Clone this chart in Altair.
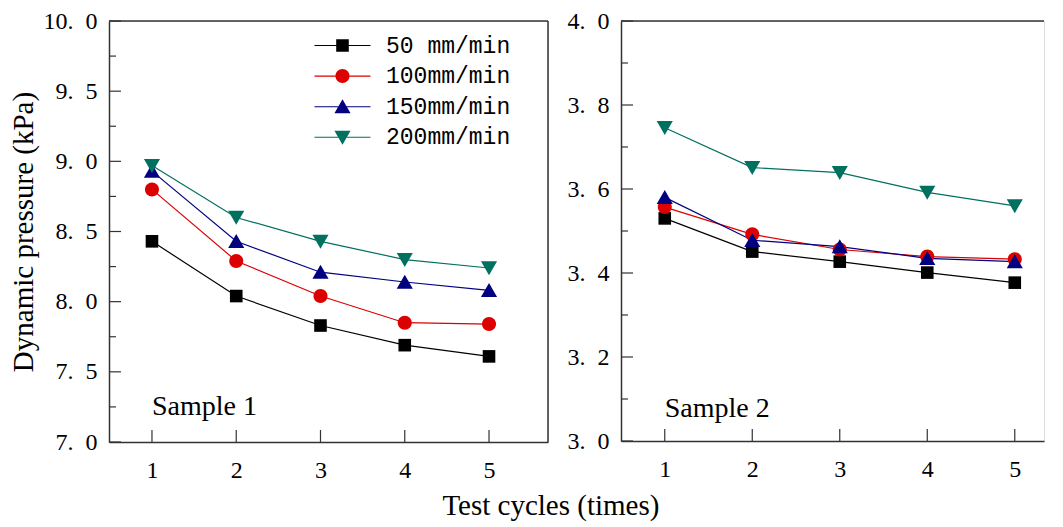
import altair as alt
import pandas as pd

cycles = [1, 2, 3, 4, 5]
series = ["50 mm/min", "100mm/min", "150mm/min", "200mm/min"]
colors = ["#000000", "#dd0000", "#000080", "#00705f"]

s1_50 = [8.43, 8.04, 7.83, 7.69, 7.61]
s1_100 = [8.80, 8.29, 8.04, 7.85, 7.84]
s1_150 = [8.93, 8.43, 8.21, 8.14, 8.08]
s1_200 = [8.97, 8.60, 8.43, 8.30, 8.24]

s2_50 = [3.530, 3.451, 3.427, 3.401, 3.377]
s2_100 = [3.557, 3.492, 3.456, 3.439, 3.433]
s2_150 = [3.580, 3.478, 3.463, 3.435, 3.427]
s2_200 = [3.746, 3.651, 3.639, 3.592, 3.560]

y1_major = [7.0, 7.5, 8.0, 8.5, 9.0, 9.5, 10.0]
y1_minor = [7.25, 7.75, 8.25, 8.75, 9.25, 9.75]
y2_major = [3.0, 3.2, 3.4, 3.6, 3.8, 4.0]
y2_minor = [3.1, 3.3, 3.5, 3.7, 3.9]

panel_labels = ["Sample 1", "Sample 2"]
panel_label_x = [1.0, 1.0]
panel_label_y = [7.19, 3.057]

marker_paths = [
    "M-0.9,-0.9H0.9V0.9H-0.9Z",
    "M1,0A1,1,0,1,1,-1,0A1,1,0,1,1,1,0Z",
    "M0,-1.05L1.15,0.95H-1.15Z",
    "M-1.15,-0.95H1.15L0,1.05Z",
]
# legend symbols: the marker with a line through it
legend_line = "M-4,-0.08H4V0.08H-4Z"
legend_paths = [legend_line + p for p in marker_paths]

SERIF = "Liberation Serif"
LINE = "#333333"
NB = "\u00a0"


def make_df(vals):
    rows = []
    for name, v in zip(series, vals):
        for c, y in zip(cycles, v):
            rows.append({"cycle": c, "value": y, "series": name})
    return pd.DataFrame(rows)


df1 = make_df([s1_50, s1_100, s1_150, s1_200])
df2 = make_df([s2_50, s2_100, s2_150, s2_200])


def panel(df, xdom, ydom, W, H, major, minor, label, lx, ly, ytitle, show_legend, right_border):
    xs = alt.Scale(domain=xdom, nice=False, zero=False)
    ys = alt.Scale(domain=ydom, nice=False, zero=False)
    lab_expr = "replace(format(datum.value, '.1f'), '.', '." + NB + NB + "')"
    xaxis = alt.Axis(values=cycles, ticks=False, tickSize=0, domain=True, domainColor=LINE,
                     domainWidth=1.5, grid=False, labelFont=SERIF, labelFontSize=24,
                     labelColor="black", labelPadding=16, title=None, format="d")
    yaxis = alt.Axis(values=major, ticks=False, tickSize=0, domain=True, domainColor=LINE,
                     domainWidth=1.5, grid=False, labelFont=SERIF, labelFontSize=24,
                     labelColor="black", labelPadding=12, labelExpr=lab_expr,
                     title=ytitle if ytitle else None, titleFont=SERIF, titleFontSize=29,
                     titleFontWeight="normal", titleColor="black", titlePadding=5)

    maj = alt.Chart(pd.DataFrame({"v": major})).mark_rule(color=LINE, strokeWidth=1.2).encode(
        x=alt.value(0), x2=alt.value(12), y=alt.Y("v:Q", scale=ys, axis=yaxis))
    mnr = alt.Chart(pd.DataFrame({"v": minor})).mark_rule(color=LINE, strokeWidth=1.2).encode(
        x=alt.value(0), x2=alt.value(7), y=alt.Y("v:Q", scale=ys))
    xt = alt.Chart(pd.DataFrame({"c": cycles})).mark_rule(color=LINE, strokeWidth=1.2).encode(
        x=alt.X("c:Q", scale=xs, axis=xaxis), y=alt.value(H), y2=alt.value(H - 12))
    top = alt.Chart(pd.DataFrame({"a": [0]})).mark_rule(color=LINE, strokeWidth=1.5).encode(
        x=alt.value(0), x2=alt.value(W), y=alt.value(0))
    layers = [maj, mnr, xt, top]

    for name, col in zip(series, colors):
        layers.append(
            alt.Chart(df).transform_filter(alt.datum.series == name)
            .mark_line(strokeWidth=1.2, color=col)
            .encode(x=alt.X("cycle:Q", scale=xs), y=alt.Y("value:Q", scale=ys))
        )
    for name, col, shp in zip(series, colors, marker_paths):
        layers.append(
            alt.Chart(df).transform_filter(alt.datum.series == name)
            .mark_point(filled=True, size=196, opacity=1, color=col, shape=shp)
            .encode(x=alt.X("cycle:Q", scale=xs), y=alt.Y("value:Q", scale=ys))
        )

    if show_legend:
        leg = alt.Legend(
            title=None, orient="none", legendX=222, legendY=13, padding=0,
            labelFont="Liberation Mono", labelFontSize=23, labelColor="black",
            labelOffset=32, rowPadding=6.6, symbolOpacity=1, symbolSize=196,
            symbolStrokeWidth=0,
        )
        legend_layer = alt.Chart(df).mark_point(filled=True, size=196, opacity=0).encode(
            x=alt.X("cycle:Q", scale=xs),
            y=alt.Y("value:Q", scale=ys),
            color=alt.Color("series:N", scale=alt.Scale(domain=series, range=colors), legend=leg),
            shape=alt.Shape("series:N", scale=alt.Scale(domain=series, range=legend_paths), legend=leg),
        )
        layers.append(legend_layer)

    txt = alt.Chart(pd.DataFrame({"t": [label], "x": [lx], "y": [ly]})).mark_text(
        font=SERIF, fontSize=28, align="left", baseline="alphabetic", color="black").encode(
        x=alt.X("x:Q", scale=xs), y=alt.Y("y:Q", scale=ys), text="t:N")
    layers.append(txt)
    if right_border:
        rb = alt.Chart(pd.DataFrame({"a": [0]})).mark_rule(color=LINE, strokeWidth=1.5).encode(
            x=alt.value(W), y=alt.value(0), y2=alt.value(H))
        layers.append(rb)
    return alt.layer(*layers).properties(width=W, height=H)


left = panel(df1, [0.49, 5.70], [7.0, 10.0], 439, 421, y1_major, y1_minor,
             panel_labels[0], panel_label_x[0], panel_label_y[0],
             "Dynamic pressure (kPa)", True, True)
right = panel(df2, [0.5, 5.334], [3.0, 4.0], 423, 420, y2_major, y2_minor,
              panel_labels[1], panel_label_x[1], panel_label_y[1],
              None, False, False)

chart = alt.hconcat(left, right, spacing=16).properties(
    padding={"left": 0, "top": 0, "right": 2, "bottom": 0},
    title=alt.TitleParams("Test cycles (times)", orient="bottom", anchor="middle",
                          font=SERIF, fontSize=29, fontWeight="normal", color="black",
                          offset=9, dx=24),
).configure_view(stroke=None).configure(background="white")

chart.save("out.html", embed_options={"renderer": "svg", "actions": False})
